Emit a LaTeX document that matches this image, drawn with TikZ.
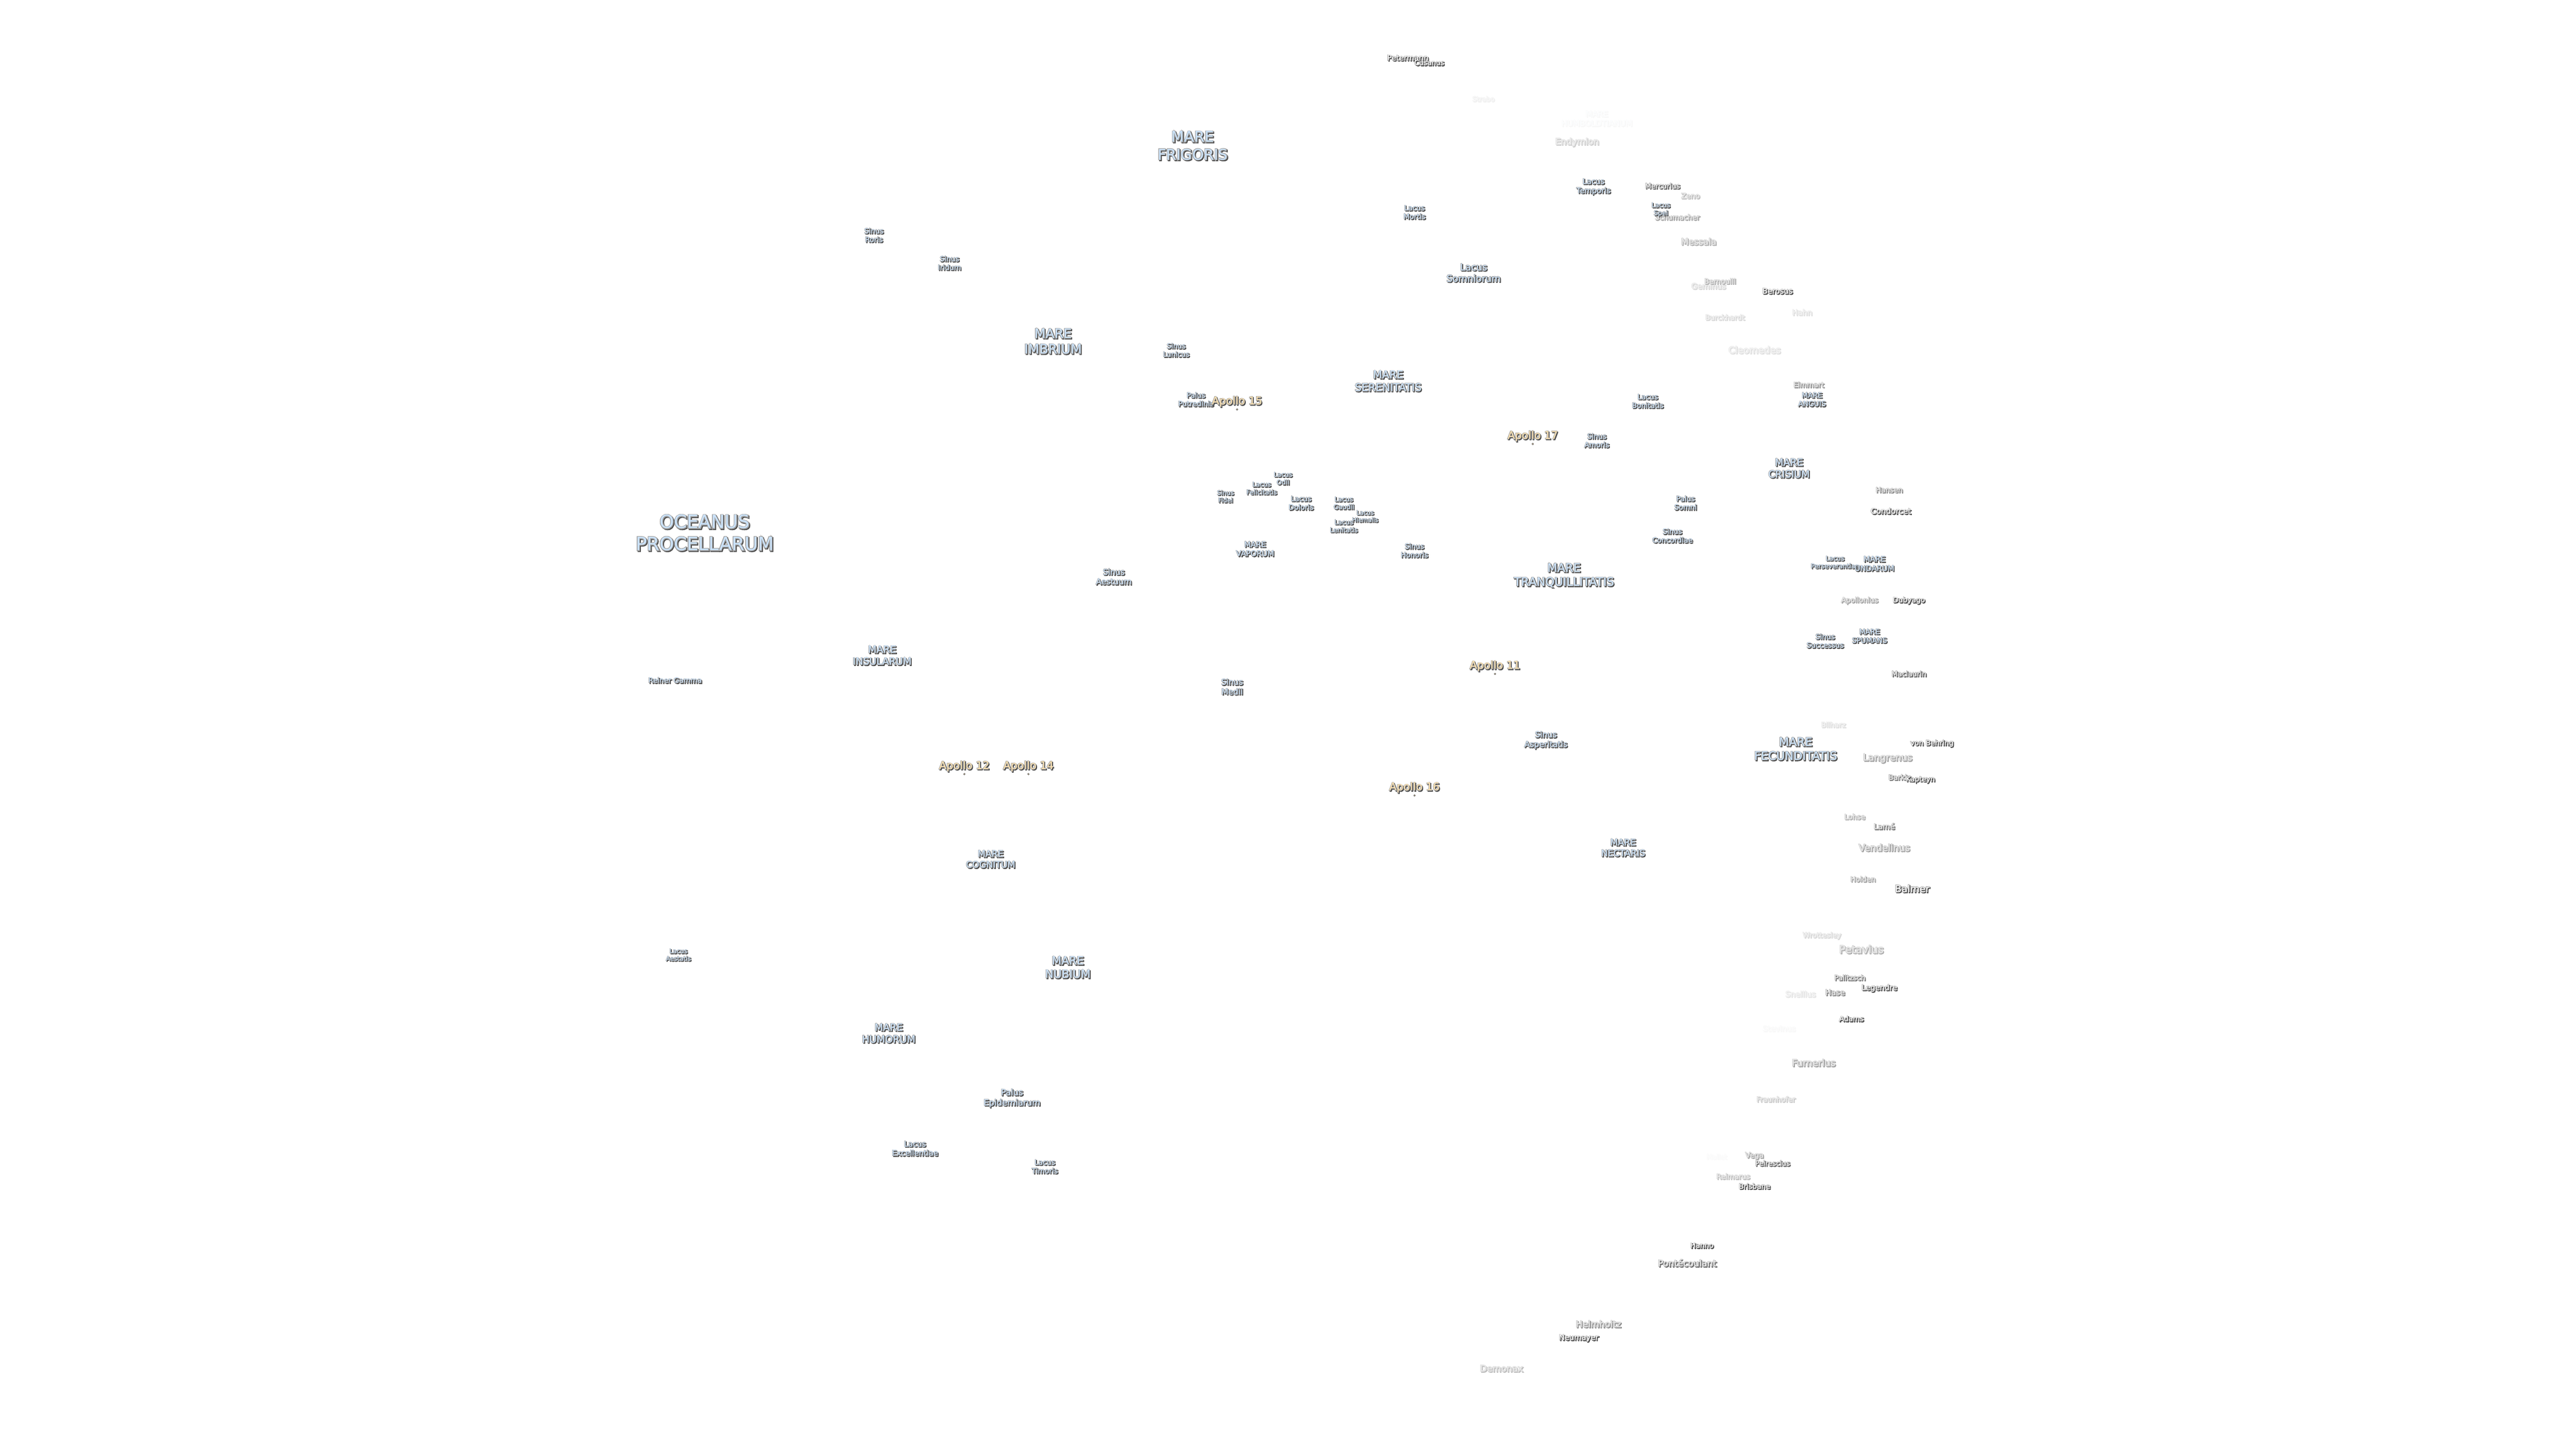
\documentclass[tikz,border=0pt]{standalone}
\usepackage{fontspec}
\setmainfont{DejaVu Sans}
\newfontfamily\fbold[FakeBold=8]{DejaVu Sans}
\definecolor{seafill}{HTML}{CBE3FB}
\definecolor{siteFill}{HTML}{FFE3B0}
\definecolor{craterFill}{HTML}{FFFFFF}
\definecolor{edgeDark}{HTML}{4A4A4A}
\definecolor{edgeHalo}{HTML}{A0A0A0}
\newcommand\lbltab[1]{\begin{tabular}{@{}c@{}}#1\end{tabular}}
% size, fill colour, level, text
\newcommand\lblbox[4]{%
  \pgfmathtruncatemacro\lv{min(100,#3*1.5)}%
  \pgfmathtruncatemacro\kv{100-\lv}%
  \colorlet{craterFill}{edgeHalo!\kv!white}%
  \fontsize{#1}{\dimexpr #1pt*6/5\relax}\selectfont
  \rlap{\hspace*{1.6pt}\raisebox{-1.6pt}{\color{edgeDark!\lv!white}\fbold\lbltab{#4}}}%
  \rlap{\hspace*{-0.4pt}\raisebox{0.4pt}{\color{edgeHalo!\lv!white}\fbold\lbltab{#4}}}%
  {\color{#2!\lv!white}\lbltab{#4}}}
\newcommand\lbl[7]{\node[lbl] (#1) at (#2,#3) {\lblbox{#4}{#5}{#6}{#7}};}
\tikzset{
  lbl/.style={inner sep=0pt,outer sep=0pt},
  sitedot/.style={fill=siteFill,draw=edgeDark,line width=0.8pt}
}
\begin{document}
\begin{tikzpicture}[x=3.67347pt,y=-3.67347pt]
\useasboundingbox (0,0) rectangle (1568,882);
\fill[white] (0,0) rectangle (1568,882);
\begin{scope}[yshift=-3.4pt]
% craters
\lbl{strabo}{903}{60}{15}{craterFill}{6}{Strabo}
\lbl{humboldt}{972}{72}{17.5}{seafill}{3}{MARE\\HUMBOLDTIANUM}
\lbl{endymion}{960}{86}{19.6}{craterFill}{18}{Endymion}
\lbl{petermann}{857}{35}{17}{craterFill}{70}{Petermann}
\lbl{cusanus}{870}{38}{15.7}{craterFill}{70}{Cusanus}
\lbl{mercurius}{1012}{113}{16}{craterFill}{60}{Mercurius}
\lbl{zeno}{1029}{119}{16.5}{craterFill}{25}{Zeno}
\lbl{schumacher}{1021}{132}{16}{craterFill}{35}{Schumacher}
\lbl{messala}{1034}{147}{19.7}{craterFill}{30}{Messala}
\lbl{geminus}{1040}{174}{17.5}{craterFill}{15}{Geminus}
\lbl{bernoulli}{1047}{171}{16}{craterFill}{30}{Bernoulli}
\lbl{berosus}{1082}{177}{17}{craterFill}{90}{Berosus}
\lbl{burckhardt}{1050}{193}{16}{craterFill}{15}{Burckhardt}
\lbl{hahn}{1097}{190}{17}{craterFill}{12}{Hahn}
\lbl{cleomedes}{1068}{213}{21}{craterFill}{12}{Cleomedes}
\lbl{eimmart}{1101}{234}{16}{craterFill}{40}{Eimmart}
\lbl{hansen}{1150}{298}{16}{craterFill}{45}{Hansen}
\lbl{condorcet}{1151}{311}{17.5}{craterFill}{65}{Condorcet}
\lbl{apollonius}{1132}{365}{16}{craterFill}{35}{Apollonius}
\lbl{dubyago}{1162}{365}{16}{craterFill}{80}{Dubyago}
\lbl{maclaurin}{1162}{410}{16}{craterFill}{60}{Maclaurin}
\lbl{bilharz}{1116}{441}{16}{craterFill}{12}{Bilharz}
\lbl{behring}{1176}{452}{16}{craterFill}{100}{von Behring}
\lbl{langrenus}{1149}{461}{21}{craterFill}{35}{Langrenus}
\lbl{barkla}{1156.5}{473}{16}{craterFill}{50}{Barkla}
\lbl{kapteyn}{1169}{474}{15.7}{craterFill}{100}{Kapteyn}
\lbl{lohse}{1129}{497}{16}{craterFill}{30}{Lohse}
\lbl{lame}{1147}{503}{17}{craterFill}{50}{Lamé}
\lbl{vendelinus}{1147}{516}{21}{craterFill}{35}{Vendelinus}
\lbl{holden}{1134}{535}{16}{craterFill}{35}{Holden}
\lbl{balmer}{1164}{541}{21.6}{craterFill}{80}{Balmer}
\lbl{wrottesley}{1109}{569}{16}{craterFill}{15}{Wrottesley}
\lbl{petavius}{1133}{578}{23.5}{craterFill}{30}{Petavius}
\lbl{palitzsch}{1126}{595}{16}{craterFill}{50}{Palitzsch}
\lbl{legendre}{1144}{601}{17}{craterFill}{90}{Legendre}
\lbl{hase}{1117}{604}{17.6}{craterFill}{45}{Hase}
\lbl{snellius}{1096}{605}{17.5}{craterFill}{10}{Snellius}
\lbl{adams}{1127}{620}{16}{craterFill}{80}{Adams}
\lbl{stevinus}{1083}{626}{17}{craterFill}{3}{Stevinus}
\lbl{furnerius}{1104}{647}{21}{craterFill}{35}{Furnerius}
\lbl{fraunhofer}{1081}{669}{16}{craterFill}{20}{Fraunhofer}
\lbl{mallet}{1045}{704}{15}{craterFill}{2}{Mallet}
\lbl{vega}{1068}{703}{16.6}{craterFill}{35}{Vega}
\lbl{peirescius}{1079}{708}{15.7}{craterFill}{60}{Peirescius}
\lbl{reimarus}{1055}{716}{16}{craterFill}{25}{Reimarus}
\lbl{brisbane}{1068}{722}{16}{craterFill}{75}{Brisbane}
\lbl{hanno}{1036}{758}{16}{craterFill}{100}{Hanno}
\lbl{pontecoulant}{1027}{769}{20}{craterFill}{55}{Pontécoulant}
\lbl{helmholtz}{973}{806}{20}{craterFill}{40}{Helmholtz}
\lbl{neumayer}{961}{814}{17}{craterFill}{100}{Neumayer}
\lbl{demonax}{914}{833}{20}{craterFill}{25}{Demonax}
% lakes, bays, marshes
\lbl{roris}{532}{143}{16}{seafill}{100}{Sinus\\Roris}
\lbl{iridum}{578}{160}{16}{seafill}{100}{Sinus\\Iridum}
\lbl{lunicus}{716}{213}{15.5}{seafill}{100}{Sinus\\Lunicus}
\lbl{putredinis}{728}{243}{16}{seafill}{100}{Palus\\Putredinis}
\lbl{mortis}{861}{129}{16}{seafill}{100}{Lacus\\Mortis}
\lbl{somniorum}{897}{166}{21}{seafill}{100}{Lacus\\Somniorum}
\lbl{temporis}{970}{113}{17}{seafill}{100}{Lacus\\Temporis}
\lbl{spei}{1011}{127}{14.6}{seafill}{100}{Lacus\\Spei}
\lbl{bonitatis}{1003}{244}{16}{seafill}{100}{Lacus\\Bonitatis}
\lbl{amoris}{972}{268}{16}{seafill}{100}{Sinus\\Amoris}
\lbl{somni}{1026}{306}{16}{seafill}{100}{Palus\\Somni}
\lbl{concordiae}{1018}{326}{16}{seafill}{100}{Sinus\\Concordiae}
\lbl{odii}{781}{291}{14.5}{seafill}{100}{Lacus\\Odii}
\lbl{felicitatis}{768}{297}{14.5}{seafill}{100}{Lacus\\Felicitatis}
\lbl{fidei}{746}{302}{14}{seafill}{100}{Sinus\\Fidei}
\lbl{doloris}{792}{306}{16}{seafill}{100}{Lacus\\Doloris}
\lbl{gaudii}{818}{306}{14.4}{seafill}{100}{Lacus\\Gaudii}
\lbl{lenitatis}{818}{320}{14.6}{seafill}{100}{Lacus\\Lenitatis}
\lbl{hiemalis}{831}{314}{13.5}{seafill}{100}{Lacus\\Hiemalis}
\lbl{honoris}{861}{335}{16}{seafill}{100}{Sinus\\Honoris}
\lbl{aestuum}{678}{351}{18}{seafill}{100}{Sinus\\Aestuum}
\lbl{medii}{750}{418}{18}{seafill}{100}{Sinus\\Medii}
\lbl{asperitatis}{941}{450}{18}{seafill}{100}{Sinus\\Asperitatis}
\lbl{perseverantiae}{1117}{342}{14.4}{seafill}{100}{Lacus\\Perseverantiae}
\lbl{successus}{1111}{390}{16}{seafill}{100}{Sinus\\Successus}
\lbl{reiner}{411}{414}{16}{seafill}{100}{Reiner Gamma}
\lbl{aestatis}{413}{581}{14}{seafill}{100}{Lacus\\Aestatis}
\lbl{epidemiarum}{616}{668}{19}{seafill}{100}{Palus\\Epidemiarum}
\lbl{excellentiae}{557}{699}{17}{seafill}{100}{Lacus\\Excellentiae}
\lbl{timoris}{636}{710}{16}{seafill}{100}{Lacus\\Timoris}
% seas
\lbl{procellarum}{429}{325}{41}{seafill}{100}{OCEANUS\\PROCELLARUM}
\lbl{frigoris}{726}{89}{33}{seafill}{100}{MARE\\FRIGORIS}
\lbl{imbrium}{641}{208}{29}{seafill}{100}{MARE\\IMBRIUM}
\lbl{serenitatis}{845}{232}{23.6}{seafill}{100}{MARE\\SERENITATIS}
\lbl{tranquillitatis}{952}{350}{26}{seafill}{100}{MARE\\TRANQUILLITATIS}
\lbl{crisium}{1089}{285}{22}{seafill}{100}{MARE\\CRISIUM}
\lbl{insularum}{537}{399}{22}{seafill}{100}{MARE\\INSULARUM}
\lbl{cognitum}{603}{523}{20}{seafill}{100}{MARE\\COGNITUM}
\lbl{nubium}{650}{589}{25}{seafill}{100}{MARE\\NUBIUM}
\lbl{humorum}{541}{629}{22}{seafill}{100}{MARE\\HUMORUM}
\lbl{nectaris}{988}{516}{20}{seafill}{100}{MARE\\NECTARIS}
\lbl{fecunditatis}{1093}{456}{26}{seafill}{100}{MARE\\FECUNDITATIS}
\lbl{vaporum}{764}{334}{17}{seafill}{100}{MARE\\VAPORUM}
\lbl{anguis}{1103}{243}{16}{seafill}{100}{MARE\\ANGUIS}
\lbl{undarum}{1141}{343}{17}{seafill}{100}{MARE\\UNDARUM}
\lbl{spumans}{1138}{387}{16}{seafill}{100}{MARE\\SPUMANS}
% landing sites
\lbl{ap15}{753}{244}{24}{siteFill}{100}{Apollo 15}
\lbl{ap17}{933}{265}{24}{siteFill}{100}{Apollo 17}
\lbl{ap11}{910}{405}{24}{siteFill}{100}{Apollo 11}
\lbl{ap12}{587}{466}{24}{siteFill}{100}{Apollo 12}
\lbl{ap14}{626}{466}{24}{siteFill}{100}{Apollo 14}
\lbl{ap16}{861}{479}{24}{siteFill}{100}{Apollo 16}
\foreach \s in {ap15,ap17,ap11,ap12,ap14,ap16}
  \path[sitedot] ([yshift=-16pt]\s.center) circle[radius=1.8pt];
\end{scope}
\end{tikzpicture}
\end{document}
